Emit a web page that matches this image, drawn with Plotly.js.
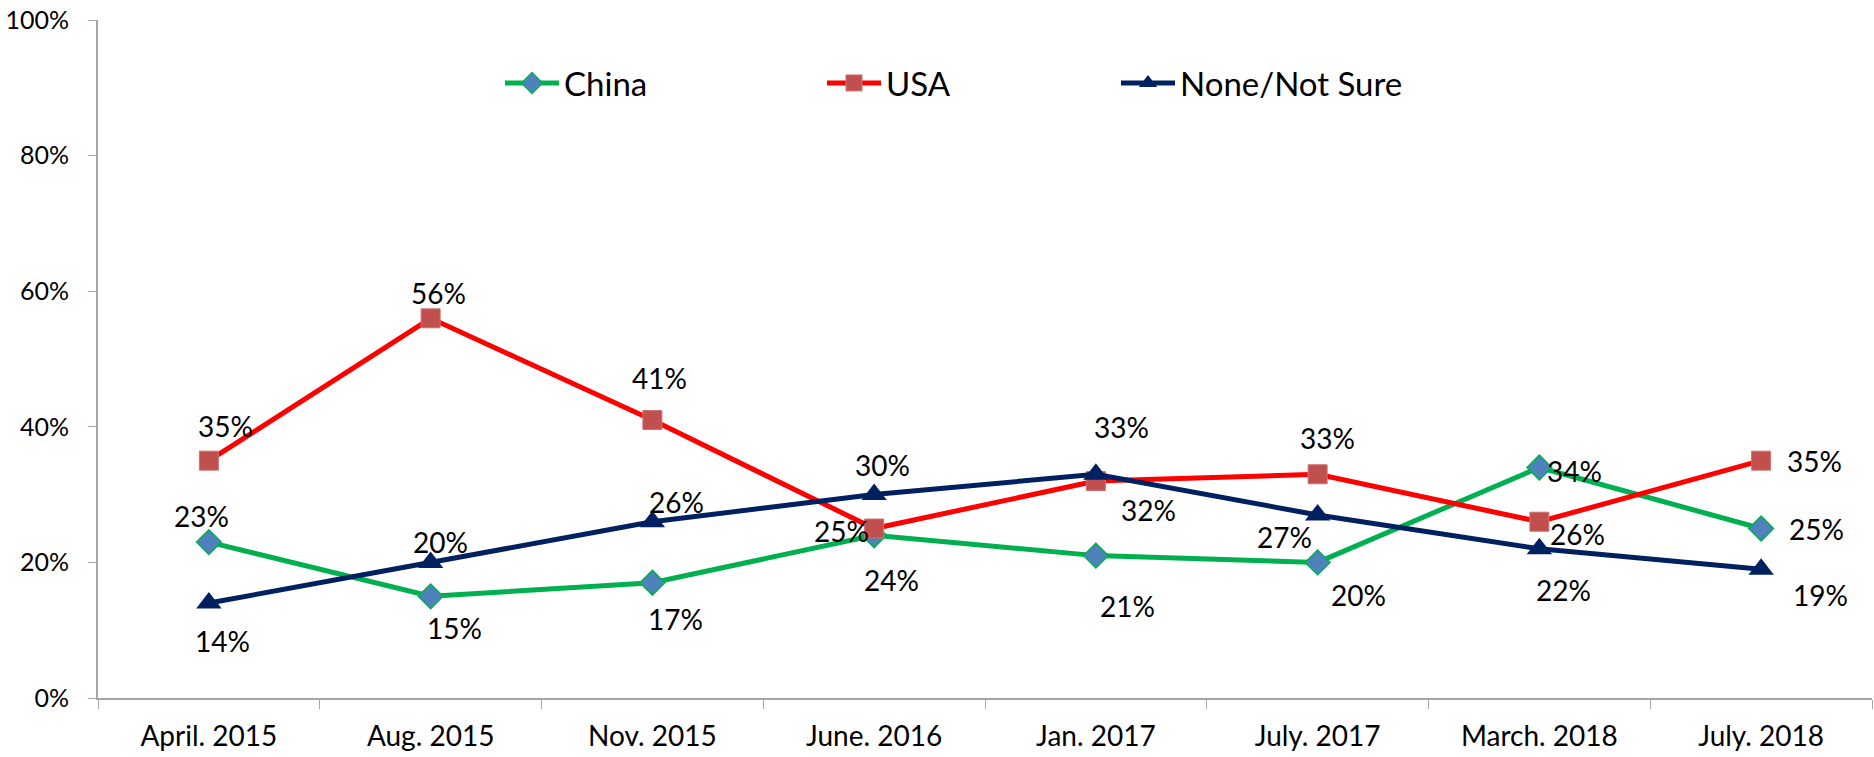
<!DOCTYPE html>
<html>
<head>
<meta charset="utf-8">
<script src="https://cdn.plot.ly/plotly-3.0.1.min.js"></script>
<style>
  html, body { margin: 0; padding: 0; background: #fff; }
  #chart { width: 1874px; height: 757px; }
</style>
</head>
<body>
<div id="chart"></div>
<script>
var periods = ['April. 2015', 'Aug. 2015', 'Nov. 2015', 'June. 2016',
    'Jan. 2017', 'July. 2017', 'March. 2018', 'July. 2018'];

var china = [23, 15, 17, 24, 21, 20, 34, 25];
var usa = [35, 56, 41, 25, 32, 33, 26, 35];
var noneSure = [14, 20, 26, 30, 33, 27, 22, 19];

// label offsets in px from each point: [dx, dy], dy up
var chinaShift = [[-7, 26], [24, -32], [23, -36], [17, -45], [32, -50], [41, -33], [35, -4], [55, 0]];
var usaShift = [[17, 35], [8, 25], [7, 42], [-33, -2], [53, -29], [10, 36], [38, -12], [53, 0]];
var noneShift = [[14, -38], [10, 20], [24, 20], [8, 30], [26, 47], [-33, -22], [24, -41], [59, -26]];

var FONT = 'Lato, "Open Sans", sans-serif';

var trace1 = {
    x: periods,
    y: china,
    name: 'China',
    type: 'scatter',
    mode: 'lines+markers',
    line: {color: '#00B050', width: 5},
    marker: {symbol: 'diamond', size: 19, color: '#4F81BD', line: {color: '#00B050', width: 1.5}},
    legend: 'legend'
};

var trace2 = {
    x: periods,
    y: usa,
    name: 'USA',
    type: 'scatter',
    mode: 'lines+markers',
    line: {color: '#FF0000', width: 5},
    marker: {symbol: 'square', size: 19, color: '#C0504D', line: {color: '#D07070', width: 1}},
    legend: 'legend2'
};

var trace3 = {
    x: periods,
    y: noneSure,
    name: 'None/Not Sure',
    type: 'scatter',
    mode: 'lines+markers',
    line: {color: '#002060', width: 5},
    marker: {symbol: 'triangle-up', size: 22, color: '#002060'},
    legend: 'legend3'
};

var annotations = [];
function addLabels(vals, shifts) {
    for (var i = 0; i < vals.length; i++) {
        annotations.push({
            x: periods[i],
            y: vals[i],
            text: vals[i] + '%',
            showarrow: false,
            xshift: shifts[i][0],
            yshift: shifts[i][1],
            font: {family: FONT, size: 28, color: '#000'}
        });
    }
}
addLabels(china, chinaShift);
addLabels(usa, usaShift);
addLabels(noneSure, noneShift);

function legendAt(px) {
    return {
        orientation: 'h',
        xref: 'container', yref: 'container',
        x: px / 1874, y: 1 - 83 / 757,
        xanchor: 'left', yanchor: 'middle',
        itemwidth: 54,
        bgcolor: 'rgba(0,0,0,0)',
        font: {family: FONT, size: 33, color: '#000'}
    };
}

var layout = {
    width: 1874,
    height: 757,
    margin: {l: 98, r: 2, t: 20, b: 59, autoexpand: false},
    paper_bgcolor: '#fff',
    plot_bgcolor: '#fff',
    showlegend: true,
    legend: legendAt(500),
    legend2: legendAt(822),
    legend3: legendAt(1116),
    xaxis: {
        type: 'category',
        range: [-0.5, 7.5],
        showgrid: false,
        zeroline: false,
        showline: true,
        linecolor: '#A6A6A6',
        linewidth: 2,
        ticks: 'outside',
        tickson: 'boundaries',
        ticklen: 9,
        tickcolor: '#A6A6A6',
        ticklabelstandoff: 12,
        tickfont: {family: FONT, size: 28, color: '#000'}
    },
    yaxis: {
        range: [0, 100],
        dtick: 20,
        ticksuffix: '%',
        showgrid: false,
        zeroline: false,
        showline: true,
        linecolor: '#A6A6A6',
        linewidth: 2,
        ticks: 'outside',
        ticklen: 8,
        tickcolor: '#A6A6A6',
        ticklabelstandoff: 14,
        tickfont: {family: FONT, size: 25, color: '#000'}
    },
    annotations: annotations,
    hovermode: false
};

Plotly.newPlot('chart', [trace1, trace2, trace3], layout, {displayModeBar: false, staticPlot: true});
</script>
</body>
</html>
